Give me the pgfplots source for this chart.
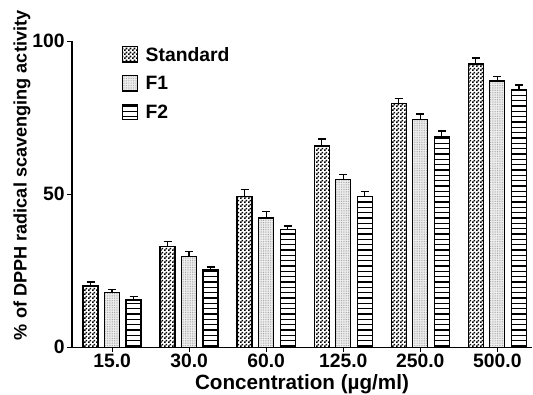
\documentclass[border=0pt]{standalone}
\usepackage{fontspec}
\setmainfont{Liberation Sans}
\usepackage{pgfplots}
\pgfplotsset{compat=1.18}
\usepackage{pgfplotstable}
\usetikzlibrary{patterns}

\pgfdeclarepatternformonly{chk}{\pgfpointorigin}{\pgfpoint{3pt}{3pt}}{\pgfpoint{3pt}{3pt}}{%
  \pgfpathrectangle{\pgfpointorigin}{\pgfpoint{1.5pt}{1.5pt}}%
  \pgfpathrectangle{\pgfpoint{1.5pt}{1.5pt}}{\pgfpoint{1.5pt}{1.5pt}}%
  \pgfusepath{fill}}
\pgfdeclarepatternformonly{fdots}{\pgfpoint{-0.5pt}{-0.5pt}}{\pgfpoint{0.5pt}{0.5pt}}{\pgfpoint{1.3pt}{1.3pt}}{%
  \pgfpathcircle{\pgfpointorigin}{0.35pt}\pgfusepath{fill}}
\pgfdeclarepatternformonly{hl}{\pgfpoint{-1pt}{-1pt}}{\pgfpoint{5pt}{5pt}}{\pgfpoint{4pt}{4pt}}{%
  \pgfsetlinewidth{1.1pt}\pgfpathmoveto{\pgfpoint{-1pt}{0pt}}\pgfpathlineto{\pgfpoint{5pt}{0pt}}\pgfusepath{stroke}}

\pgfplotstableread{
x y e
0 20.0 1.4
1 33.0 1.6
2 49.3 2.2
3 65.8 2.3
4 79.7 1.7
5 92.6 2.0
}\stdtab
\pgfplotstableread{
x y e
0 17.9 1.1
1 29.6 1.8
2 42.3 2.1
3 54.9 1.6
4 74.5 1.7
5 87.0 1.5
}\fonetab
\pgfplotstableread{
x y e
0 15.5 1.1
1 25.3 0.9
2 38.4 1.3
3 49.3 1.7
4 69.0 1.7
5 84.1 1.6
}\ftwotab

\begin{document}
\begin{tikzpicture}
\begin{axis}[
  scale only axis,
  width=345pt, height=229.5pt,
  ybar=4.9pt, bar width=11.25pt,
  xmin=-0.52, xmax=5.45,
  ymin=0, ymax=100,
  axis x line*=bottom, axis y line*=left,
  axis line style={line width=0.8pt},
  xtick=data,
  xticklabels={15.0,30.0,60.0,125.0,250.0,500.0},
  ytick={0,50,100},
  tick align=outside,
  major tick length=3.5pt,
  tick style={line width=0.8pt, black},
  /pgf/number format/assume math mode=true,
  ticklabel style={font=\bfseries\fontsize{14.5}{16}\selectfont},
  xticklabel style={yshift=2pt},
  yticklabel style={xshift=1.5pt},
  xlabel={Concentration (µg/ml)},
  xlabel style={font=\bfseries\fontsize{15.5}{17}\selectfont, inner sep=0.5pt, yshift=-1.3pt},
  ylabel={\% of DPPH radical scavenging activity},
  ylabel style={font=\bfseries\fontsize{13.6}{15}\selectfont, at={(ticklabel cs:0.562)}, yshift=-5.5pt},
  legend style={at={(axis description cs:0.108,0.99)}, anchor=north west, draw=none, fill=none,
    font=\bfseries\fontsize{14.5}{16}\selectfont, row sep=6pt, column sep=4pt, inner sep=0pt},
  legend cell align=left,
  legend image code/.code={\draw[#1, line width=0.8pt] (0pt,-5pt) rectangle (11pt,6.5pt);},
  error bars/error bar style={line width=1pt, black},
  error bars/error mark options={rotate=90, mark size=3pt, line width=1pt, black},
]
\addplot[draw=black, line width=1pt, pattern=chk, pattern color=black,
  error bars/.cd, y dir=plus, y explicit]
  table[x=x, y=y, y error=e]{\stdtab};
\addlegendentry{Standard}
\addplot[draw=black, line width=1pt, fill=gray!12, postaction={pattern=fdots, pattern color=gray!80},
  error bars/.cd, y dir=plus, y explicit]
  table[x=x, y=y, y error=e]{\fonetab};
\addlegendentry{F1}
\addplot[draw=black, line width=1pt, pattern=hl, pattern color=black,
  error bars/.cd, y dir=plus, y explicit]
  table[x=x, y=y, y error=e]{\ftwotab};
\addlegendentry{F2}
\end{axis}
\pgfresetboundingbox
\path[use as bounding box] ([xshift=-54pt,yshift=-35pt]current axis.south west) rectangle ([xshift=0.75pt,yshift=31pt]current axis.north east);
\end{tikzpicture}
\end{document}
